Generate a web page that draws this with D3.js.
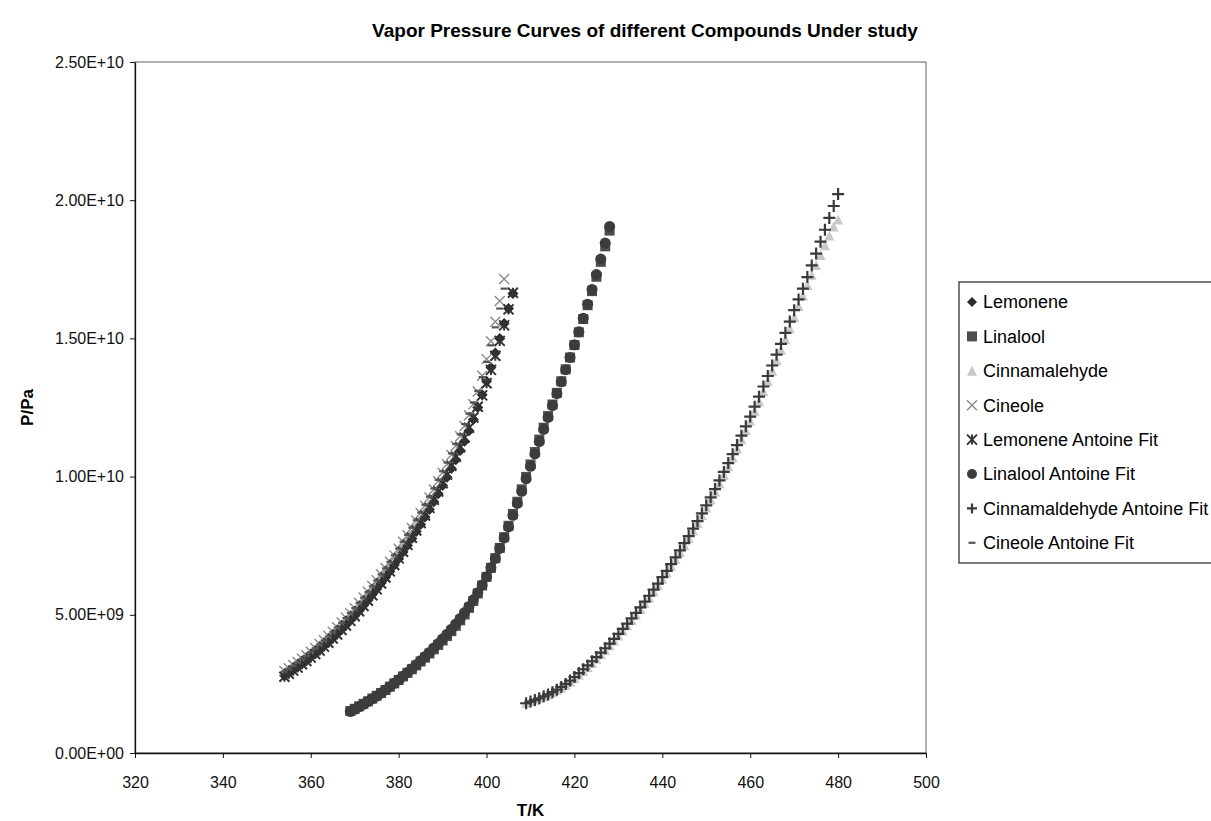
<!DOCTYPE html>
<html>
<head>
<meta charset="utf-8">
<script src="https://cdn.jsdelivr.net/npm/d3@7"></script>
<style>
  body { margin: 0; background: #fff; }
  svg { font-family: "Liberation Sans", Arial, sans-serif; }
  .tick text { font-size: 16px; fill: #111; }
</style>
</head>
<body>
<div id="chart"></div>
<script>
// values, pressures in units of 1e9 Pa
const tempLemonene = [354,355,356,357,358,359,360,361,362,363,364,365,366,367,368,369,370,371,372,373,374,375,376,377,378,379,380,381,382,383,384,385,386,387,388,389,390,391,392,393,394,395,396,397,398,399,400,401,402,403,404,405,406];
const tempCineole = [354,355,356,357,358,359,360,361,362,363,364,365,366,367,368,369,370,371,372,373,374,375,376,377,378,379,380,381,382,383,384,385,386,387,388,389,390,391,392,393,394,395,396,397,398,399,400,401,402,403,404];
const tempLinalool = [369,370,371,372,373,374,375,376,377,378,379,380,381,382,383,384,385,386,387,388,389,390,391,392,393,394,395,396,397,398,399,400,401,402,403,404,405,406,407,408,409,410,411,412,413,414,415,416,417,418,419,420,421,422,423,424,425,426,427,428];
const tempCinnam = [409,410,411,412,413,414,415,416,417,418,419,420,421,422,423,424,425,426,427,428,429,430,431,432,433,434,435,436,437,438,439,440,441,442,443,444,445,446,447,448,449,450,451,452,453,454,455,456,457,458,459,460,461,462,463,464,465,466,467,468,469,470,471,472,473,474,475,476,477,478,479,480];

const pLemonene = [2.80,2.90,3.01,3.12,3.23,3.35,3.47,3.60,3.73,3.87,4.01,4.16,4.31,4.47,4.63,4.80,4.97,5.15,5.34,5.53,5.73,5.93,6.14,6.35,6.57,6.80,7.03,7.27,7.51,7.76,8.01,8.27,8.54,8.81,9.09,9.38,9.68,9.98,10.29,10.61,10.94,11.28,11.66,12.07,12.50,12.96,13.45,13.95,14.47,15.00,15.54,16.08,16.62];
const pLinalool = [1.52,1.60,1.69,1.78,1.87,1.97,2.07,2.17,2.28,2.40,2.52,2.64,2.77,2.90,3.03,3.17,3.31,3.45,3.60,3.75,3.91,4.07,4.23,4.41,4.60,4.80,5.01,5.25,5.50,5.77,6.06,6.37,6.70,7.05,7.42,7.81,8.22,8.65,9.09,9.54,9.99,10.44,10.89,11.34,11.77,12.19,12.61,13.03,13.45,13.88,14.31,14.76,15.22,15.70,16.20,16.71,17.23,17.77,18.33,18.90];
const pCinnamalehyde = [1.82,1.87,1.93,1.99,2.05,2.12,2.20,2.28,2.37,2.47,2.58,2.70,2.83,2.97,3.11,3.26,3.41,3.57,3.73,3.90,4.07,4.25,4.43,4.62,4.81,5.01,5.21,5.42,5.63,5.85,6.07,6.30,6.53,6.77,7.02,7.27,7.52,7.78,8.05,8.32,8.60,8.88,9.17,9.46,9.76,10.07,10.38,10.70,11.02,11.35,11.69,12.03,12.38,12.73,13.09,13.46,13.83,14.21,14.59,14.98,15.37,15.77,16.17,16.55,16.93,17.30,17.66,18.02,18.37,18.72,19.05,19.30];
const pCineole = [2.97,3.07,3.18,3.29,3.41,3.54,3.66,3.80,3.94,4.08,4.24,4.39,4.55,4.72,4.89,5.06,5.24,5.43,5.63,5.83,6.04,6.25,6.46,6.69,6.92,7.15,7.39,7.64,7.88,8.14,8.41,8.68,8.95,9.24,9.53,9.83,10.14,10.45,10.78,11.11,11.46,11.83,12.22,12.62,13.08,13.65,14.25,14.90,15.60,16.35,17.15];
const pLemoneneFit = [2.76,2.87,2.98,3.09,3.21,3.33,3.45,3.58,3.71,3.85,3.99,4.14,4.29,4.45,4.61,4.78,4.95,5.13,5.32,5.51,5.71,5.92,6.13,6.35,6.57,6.80,7.04,7.28,7.53,7.79,8.05,8.32,8.59,8.87,9.16,9.46,9.76,10.07,10.39,10.72,11.06,11.41,11.77,12.14,12.53,12.94,13.38,13.86,14.37,14.91,15.47,16.05,16.65];
const pLinaloolFit = [1.50,1.58,1.67,1.76,1.86,1.96,2.06,2.17,2.28,2.40,2.52,2.65,2.78,2.91,3.05,3.19,3.34,3.49,3.64,3.80,3.96,4.13,4.30,4.48,4.67,4.87,5.08,5.30,5.54,5.80,6.08,6.38,6.70,7.04,7.40,7.78,8.18,8.60,9.03,9.47,9.92,10.37,10.82,11.27,11.71,12.14,12.57,13.00,13.43,13.87,14.31,14.77,15.24,15.73,16.24,16.77,17.31,17.87,18.45,19.05];
const pCinnamFit = [1.80,1.86,1.92,1.98,2.05,2.12,2.20,2.29,2.39,2.50,2.62,2.75,2.89,3.03,3.17,3.32,3.47,3.63,3.79,3.96,4.13,4.31,4.49,4.68,4.87,5.07,5.27,5.48,5.69,5.91,6.13,6.36,6.59,6.83,7.08,7.33,7.59,7.85,8.12,8.39,8.67,8.96,9.25,9.55,9.86,10.17,10.49,10.81,11.14,11.48,11.82,12.17,12.53,12.89,13.26,13.64,14.02,14.41,14.80,15.20,15.61,16.02,16.41,16.80,17.22,17.64,18.07,18.50,18.93,19.36,19.79,20.22];
const pCineoleFit = [2.95,3.05,3.16,3.28,3.40,3.52,3.65,3.79,3.93,4.07,4.22,4.38,4.54,4.71,4.88,5.06,5.24,5.43,5.62,5.82,6.03,6.24,6.46,6.68,6.91,7.15,7.39,7.64,7.89,8.15,8.42,8.70,8.98,9.27,9.57,9.88,10.19,10.51,10.84,11.18,11.53,11.90,12.28,12.68,13.10,13.60,14.15,14.75,15.40,16.08,16.80];

const seriesNames = ["Lemonene", "Linalool", "Cinnamalehyde", "Cineole",
  "Lemonene Antoine Fit", "Linalool Antoine Fit", "Cinnamaldehyde Antoine Fit", "Cineole Antoine Fit"];
const seriesTemps = [tempLemonene, tempLinalool, tempCinnam, tempCineole,
  tempLemonene, tempLinalool, tempCinnam, tempCineole];
const seriesValues = [pLemonene, pLinalool, pCinnamalehyde, pCineole,
  pLemoneneFit, pLinaloolFit, pCinnamFit, pCineoleFit];

const xTicks = [320, 340, 360, 380, 400, 420, 440, 460, 480, 500];
const yTicks = [0, 5e9, 1e10, 1.5e10, 2e10, 2.5e10];
const UNIT = 1e9;

// marker look for each series (Excel style grey markers)
const markerStyles = [
  { shape: "diamond", fill: "#2b2b2b", size: 11 },
  { shape: "square", fill: "#4d4d4d", size: 10 },
  { shape: "triangle", fill: "#c9c9c9", size: 10 },
  { shape: "x", stroke: "#8a8a8a", size: 10, width: 1.4 },
  { shape: "asterisk", stroke: "#333", size: 10, width: 2 },
  { shape: "circle", fill: "#3c3c3c", size: 11 },
  { shape: "plus", stroke: "#3a3a3a", size: 12, width: 2.2 },
  { shape: "dash", stroke: "#555", size: 7, width: 2.2 },
];

function markerPath(shape, s) {
  const h = s / 2;
  switch (shape) {
    case "diamond": return `M0,${-h}L${h},0L0,${h}L${-h},0Z`;
    case "square": return `M${-h},${-h}H${h}V${h}H${-h}Z`;
    case "triangle": return `M0,${-h}L${h},${h}L${-h},${h}Z`;
    case "circle": return `M${h},0A${h},${h} 0 1,1 ${-h},0A${h},${h} 0 1,1 ${h},0Z`;
    case "x": return `M${-h},${-h}L${h},${h}M${h},${-h}L${-h},${h}`;
    case "asterisk": return `M${-h},${-h}L${h},${h}M${h},${-h}L${-h},${h}M0,${-h}V${h}`;
    case "plus": return `M${-h},0H${h}M0,${-h}V${h}`;
    case "dash": return `M${-h},0H${h}`;
  }
}

function sciFormat(v) {
  // 2.5e10 -> "2.50E+10"
  const [m, e] = d3.format(".2e")(v).split("e");
  const sign = e[0] === "-" ? "-" : "+";
  const digits = e.replace(/[+-]/, "").padStart(2, "0");
  return `${m}E${sign}${digits}`;
}

const config = {
  width: 1211,
  height: 821,
  margin: { top: 62, left: 135, right: 285, bottom: 68 },
};

const svg = d3.select("#chart").append("svg")
  .attr("width", config.width)
  .attr("height", config.height);

const x = d3.scaleLinear()
  .domain([320, 500])
  .range([config.margin.left, config.width - config.margin.right]);

const y = d3.scaleLinear()
  .domain([0, 2.5e10])
  .range([config.height - config.margin.bottom, config.margin.top]);

// plot area frame (top and right edges grey)
svg.append("rect")
  .attr("x", x(320)).attr("y", y(2.5e10))
  .attr("width", x(500) - x(320)).attr("height", y(0) - y(2.5e10))
  .attr("fill", "none").attr("stroke", "#7a7a7a").attr("stroke-width", 1.2);

// series markers, drawn in legend order so the fits sit on top
seriesValues.forEach((vals, i) => {
  const st = markerStyles[i];
  const temps = seriesTemps[i];
  const pts = vals.map((p, j) => ({ t: temps[j], p: p * UNIT }));
  svg.append("g")
    .attr("class", "series")
    .selectAll("path")
    .data(pts)
    .join("path")
    .attr("transform", (d) => `translate(${x(d.t)},${y(d.p)})`)
    .attr("d", markerPath(st.shape, st.size))
    .attr("fill", st.fill || "none")
    .attr("stroke", st.stroke || "none")
    .attr("stroke-width", st.width || 0);
});

// axes
const xAxis = svg.append("g")
  .attr("transform", `translate(0,${y(0)})`)
  .call(d3.axisBottom(x).tickValues(xTicks).tickSize(5).tickSizeOuter(0).tickPadding(19));
const yAxis = svg.append("g")
  .attr("transform", `translate(${x(320)},0)`)
  .call(d3.axisLeft(y).tickValues(yTicks).tickFormat(sciFormat).tickSize(5).tickSizeOuter(0).tickPadding(6));
[xAxis, yAxis].forEach((g) => {
  g.select(".domain").attr("stroke", "#111").attr("stroke-width", 1.3);
  g.selectAll(".tick line").attr("stroke", "#111");
  g.selectAll(".tick text").attr("font-family", "'Liberation Sans', Arial, sans-serif");
});

// titles
svg.append("text")
  .attr("x", 645).attr("y", 37)
  .attr("text-anchor", "middle")
  .style("font-size", "19px").style("font-weight", "bold")
  .text("Vapor Pressure Curves of different Compounds Under study");

svg.append("text")
  .attr("x", (x(320) + x(500)) / 2).attr("y", 816)
  .attr("text-anchor", "middle")
  .style("font-size", "17px").style("font-weight", "bold")
  .text("T/K");

svg.append("text")
  .attr("transform", `translate(33,${(y(0) + y(2.5e10)) / 2}) rotate(-90)`)
  .attr("text-anchor", "middle")
  .style("font-size", "17px").style("font-weight", "bold")
  .text("P/Pa");

// legend
const legend = svg.append("g").attr("transform", "translate(959,282)");
legend.append("rect")
  .attr("width", 262).attr("height", 281)
  .attr("fill", "#fff").attr("stroke", "#222").attr("stroke-width", 1.2);
seriesNames.forEach((name, i) => {
  const st = markerStyles[i];
  const cy = 20 + i * 34.4;
  legend.append("path")
    .attr("transform", `translate(13,${cy})`)
    .attr("d", markerPath(st.shape, Math.min(st.size, 10)))
    .attr("fill", st.fill || "none")
    .attr("stroke", st.stroke || "none")
    .attr("stroke-width", st.width || 0);
  legend.append("text")
    .attr("x", 24).attr("y", cy).attr("dy", "0.35em")
    .style("font-size", "18px")
    .text(name);
});
</script>
</body>
</html>
